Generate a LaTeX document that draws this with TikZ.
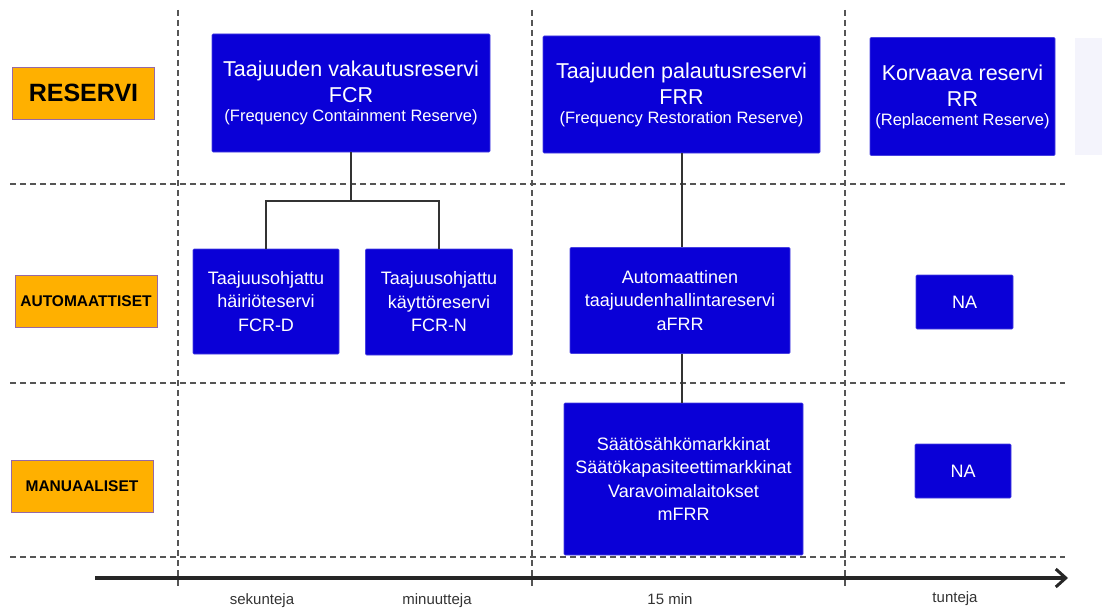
\documentclass[tikz,border=0pt]{standalone}
\usepackage{fontspec}
\setmainfont{Liberation Sans}
\usetikzlibrary{arrows.meta}
\definecolor{resblue}{RGB}{10,0,215}
\definecolor{resorange}{RGB}{255,176,0}
\definecolor{resframe}{RGB}{150,105,165}
\definecolor{gridgray}{RGB}{85,85,85}
\definecolor{palebox}{RGB}{244,244,252}

\begin{document}
\begin{tikzpicture}[x=1pt,y=-1pt,
  res/.style={fill=resblue,draw=resblue!75!white,line width=0.6pt,text=white,align=center,inner sep=0pt,rounded corners=1pt,font=\fontsize{18}{23.5}\selectfont},
  head/.style={res,font=\fontsize{21.5}{26}\selectfont},
  tag/.style={fill=resorange,draw=resframe,line width=1pt,inner sep=0pt,minimum width=142pt,minimum height=52pt,font=\bfseries\fontsize{15.5}{18}\selectfont},
  grid/.style={gridgray,line width=1.7pt,dash pattern=on 6pt off 4pt},
  link/.style={black!80,line width=2pt},
  axis/.style={black!85,line width=3.4pt,-{Straight Barb[length=10pt,width=18pt,line width=3pt]}},
  time/.style={text=black!80,anchor=base,font=\fontsize{15}{18}\selectfont}]
\useasboundingbox (0,0) rectangle (1102,610);

\foreach \y in {184,383,557}
  \draw[grid] (10,\y) -- (1065,\y);
\foreach \x in {178,532,845}
  \draw[grid] (\x,10) -- (\x,586);
\fill[palebox] (1075,38) rectangle (1102,155);

\node[tag,font=\bfseries\fontsize{25}{30}\selectfont] (reservi) at (83.5,93) {RESERVI};
\node[tag] (auto) at (86,301.5) {AUTOMAATTISET};
\node[tag] (manu) at (82,486) {MANUAALISET};

\node[head,minimum width=278pt,minimum height=118pt] (fcr) at (351,93)
  {Taajuuden vakautusreservi\\FCR\\[-7pt]{\fontsize{16.5}{20}\selectfont (Frequency Containment Reserve)}};
\node[head,minimum width=277pt,minimum height=117pt] (frr) at (681.5,94.5)
  {Taajuuden palautusreservi\\FRR\\[-7pt]{\fontsize{16.5}{20}\selectfont (Frequency Restoration Reserve)}};
\node[head,minimum width=185pt,minimum height=118pt] (rr) at (962.5,96.5)
  {Korvaava reservi\\RR\\[-7pt]{\fontsize{16.5}{20}\selectfont (Replacement Reserve)}};

\node[res,minimum width=146pt,minimum height=105pt] (fcrd) at (266,301.5) {Taajuusohjattu\\häiriöteservi\\FCR-D};
\node[res,minimum width=147pt,minimum height=106pt] (fcrn) at (439,302) {Taajuusohjattu\\käyttöreservi\\FCR-N};
\node[res,minimum width=220pt,minimum height=106pt] (afrr) at (680,300.5) {Automaattinen\\taajuudenhallintareservi\\aFRR};
\node[res,minimum width=239pt,minimum height=152pt] (mfrr) at (683.5,479)
  {Säätösähkömarkkinat\\Säätökapasiteettimarkkinat\\Varavoimalaitokset\\mFRR};
\node[res,minimum width=97pt,minimum height=54pt] (na1) at (964.5,302) {NA};
\node[res,minimum width=96pt,minimum height=54pt] (na2) at (963,471) {NA};

\coordinate (fork) at (351,201);
\draw[link] (fcr.south) -- (fork);
\draw[link] (fcrd.north) |- (fork) -| (fcrn.north);
\draw[link] (frr.south) -- (frr.south |- afrr.north);
\draw[link] (afrr.south -| frr.south) -- (frr.south |- mfrr.north);

\coordinate (t0) at (95,578);
\coordinate (t1) at (1068,578);
\draw[axis] (t0) -- (t1);
\node[time] (sek) at (262,604) {sekunteja};
\node[time] (min) at (437,604) {minuutteja};
\node[time] (q15) at (670,604) {15 min};
\node[time] (tun) at (955,602) {tunteja};
\end{tikzpicture}
\end{document}
